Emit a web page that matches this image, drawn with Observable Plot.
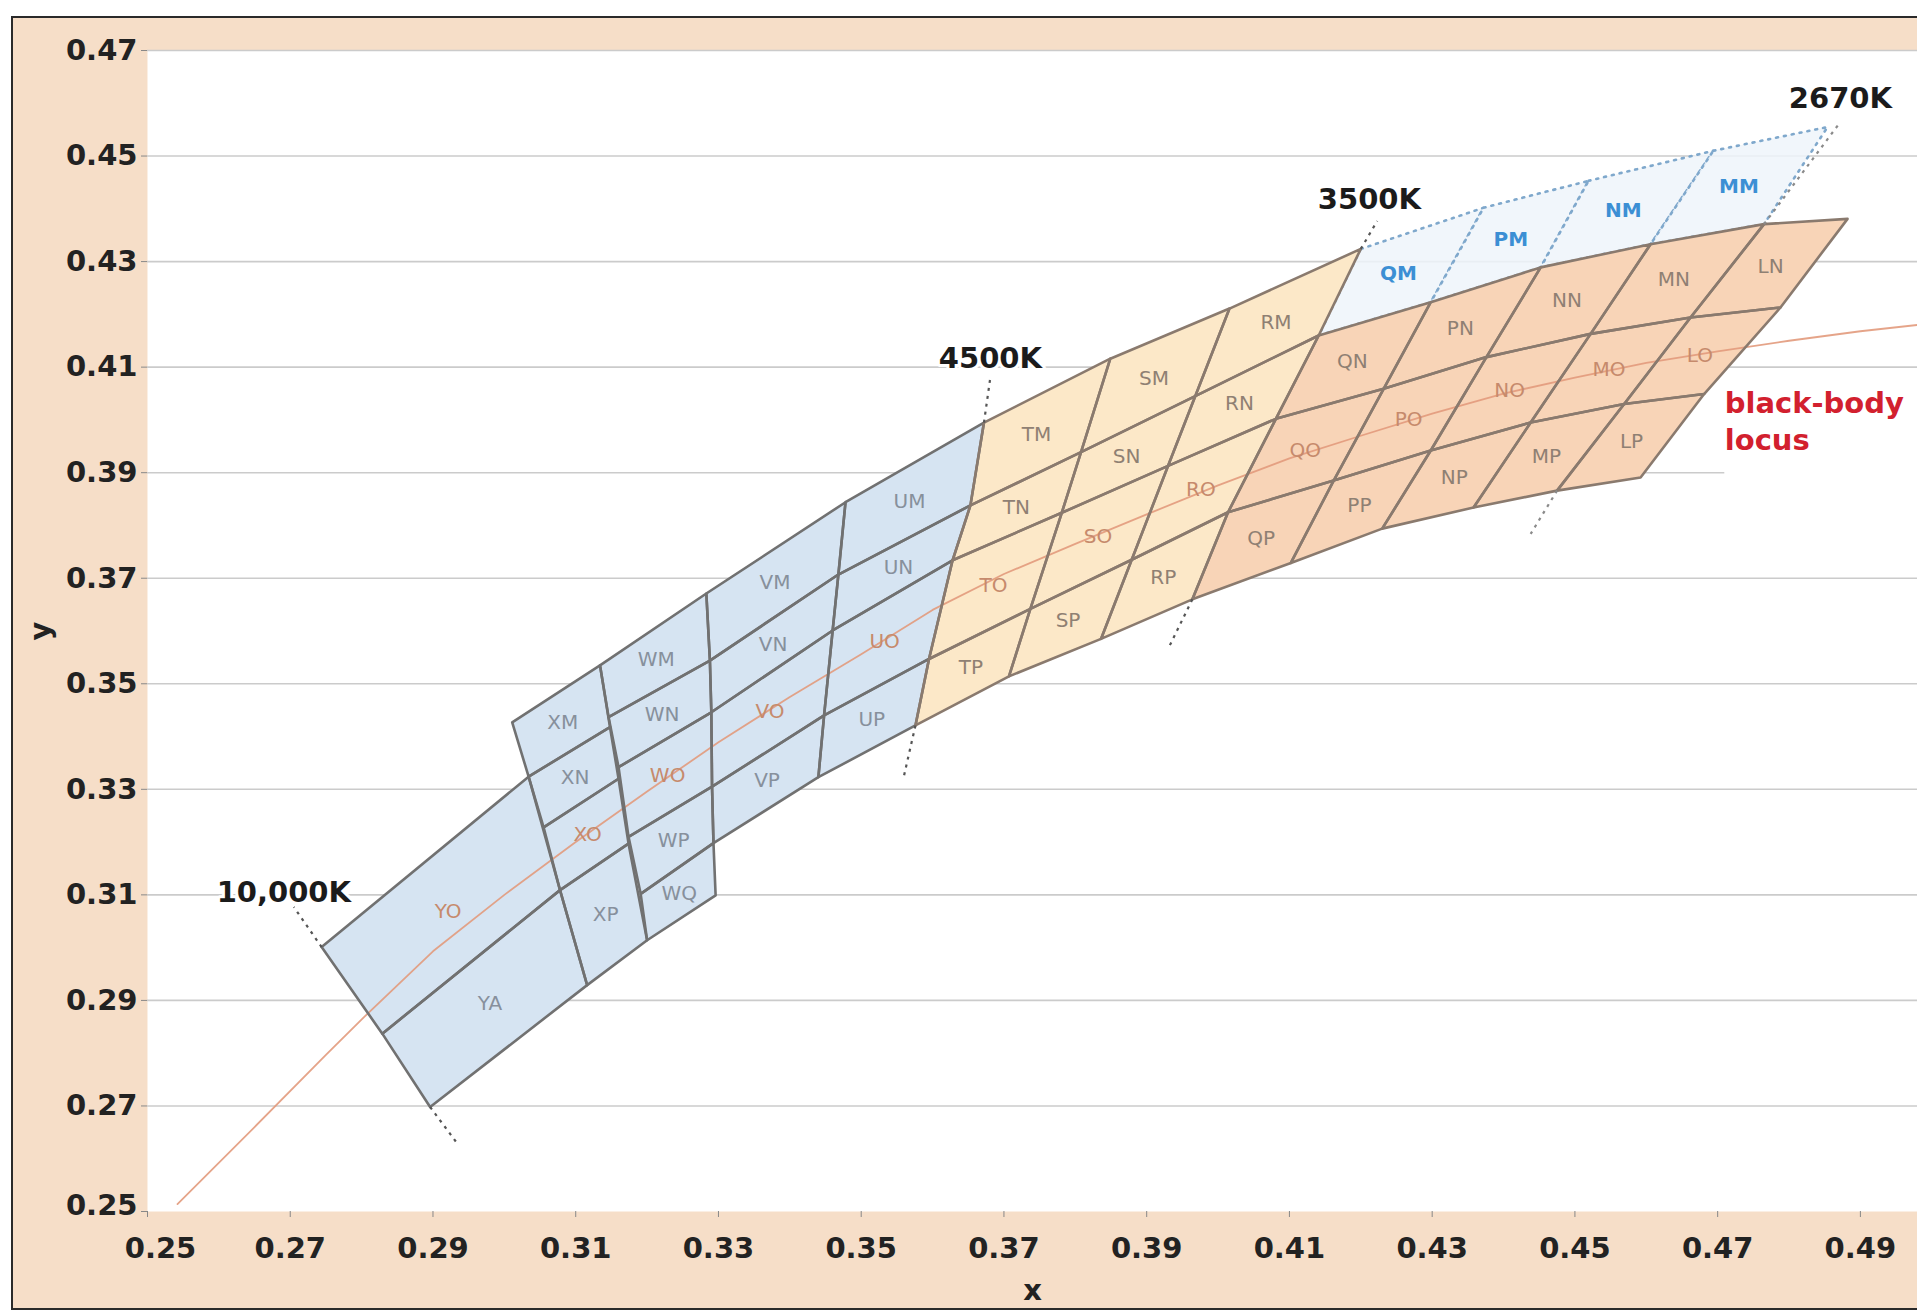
<!DOCTYPE html>
<html><head><meta charset="utf-8">
<script src="https://cdn.jsdelivr.net/npm/d3@7"></script>
<script src="https://cdn.jsdelivr.net/npm/@observablehq/plot@0.6"></script>
<style>
html,body{margin:0;padding:0;background:#fff;overflow:hidden;}
#wrap{position:relative;width:1917px;height:1313px;overflow:hidden;}
#panel{position:absolute;left:11px;top:16px;width:1930px;height:1294px;background:#F6DEC8;border:2px solid #2a2a2a;box-sizing:border-box;}
#chart{position:absolute;left:0;top:0;}
</style></head><body>
<div id="wrap"><div id="panel"></div><div id="chart"></div></div>
<script>
// ---- axis ticks ----
const xTicks = [0.25,0.27,0.29,0.31,0.33,0.35,0.37,0.39,0.41,0.43,0.45,0.47,0.49];
const yTicks = [0.25,0.27,0.29,0.31,0.33,0.35,0.37,0.39,0.41,0.43,0.45,0.47];

// ---- bin columns (CCT bins) and their rows (Duv bins) ----
const columns = ["Y","X","W","V","U","T","S","R","Q","P","N","M","L"];
const rowCodes = [
  ["O","A"],
  ["M","N","O","P"],
  ["M","N","O","P","Q"],
  ["M","N","O","P"],
  ["M","N","O","P"],
  ["M","N","O","P"],
  ["M","N","O","P"],
  ["M","N","O","P"],
  ["M","N","O","P"],
  ["M","N","O","P"],
  ["M","N","O","P"],
  ["M","N","O","P"],
  ["N","O","P"]
];
// left / right edge corner points of each column (CIE x, y), top to bottom
const leftX = [
  [0.2744,0.2829,0.2896],
  [0.3011,0.3034,0.3055,0.3078,0.3116],
  [0.3134,0.3146,0.3160,0.3174,0.3191,0.3200],
  [0.3283,0.3288,0.3290,0.3291,0.3293],
  [0.3478,0.3468,0.3460,0.3448,0.3440],
  [0.3672,0.3653,0.3628,0.3595,0.3576],
  [0.3849,0.3808,0.3781,0.3737,0.3707],
  [0.4016,0.3968,0.3930,0.3879,0.3836],
  [0.4200,0.4141,0.4081,0.4014,0.3964],
  [0.4372,0.4298,0.4232,0.4162,0.4102],
  [0.4519,0.4452,0.4376,0.4298,0.4230],
  [0.4694,0.4606,0.4522,0.4438,0.4358],
  [0.4765,0.4662,0.4569,0.4475]
];
const leftY = [
  [0.3001,0.2837,0.2698],
  [0.3427,0.3324,0.3228,0.3109,0.2929],
  [0.3535,0.3437,0.3342,0.3210,0.3102,0.3014],
  [0.3671,0.3544,0.3446,0.3305,0.3198],
  [0.3844,0.3707,0.3601,0.3440,0.3323],
  [0.3995,0.3838,0.3734,0.3547,0.3421],
  [0.4116,0.3939,0.3824,0.3642,0.3514],
  [0.4211,0.4045,0.3913,0.3735,0.3585],
  [0.4324,0.4160,0.4002,0.3825,0.3660],
  [0.4402,0.4223,0.4059,0.3885,0.3729],
  [0.4453,0.4289,0.4119,0.3942,0.3794],
  [0.4510,0.4333,0.4163,0.3995,0.3834],
  [0.4371,0.4194,0.4030,0.3866]
];
const rightX = [
  [0.3034,0.3078,0.3116],
  [0.3134,0.3148,0.3160,0.3174,0.3200],
  [0.3283,0.3288,0.3290,0.3291,0.3293,0.3296],
  [0.3478,0.3468,0.3460,0.3448,0.3440],
  [0.3672,0.3653,0.3628,0.3595,0.3576],
  [0.3849,0.3808,0.3781,0.3737,0.3707],
  [0.4016,0.3968,0.3930,0.3879,0.3836],
  [0.4200,0.4141,0.4081,0.4014,0.3964],
  [0.4372,0.4298,0.4232,0.4162,0.4102],
  [0.4519,0.4452,0.4376,0.4298,0.4230],
  [0.4694,0.4606,0.4522,0.4438,0.4358],
  [0.4854,0.4765,0.4662,0.4569,0.4475],
  [0.4882,0.4788,0.4681,0.4592]
];
const rightY = [
  [0.3324,0.3109,0.2929],
  [0.3535,0.3418,0.3320,0.3197,0.3014],
  [0.3671,0.3544,0.3446,0.3305,0.3198,0.3099],
  [0.3844,0.3707,0.3601,0.3440,0.3323],
  [0.3995,0.3838,0.3734,0.3547,0.3421],
  [0.4116,0.3939,0.3824,0.3642,0.3514],
  [0.4211,0.4045,0.3913,0.3735,0.3585],
  [0.4324,0.4160,0.4002,0.3825,0.3660],
  [0.4402,0.4223,0.4059,0.3885,0.3729],
  [0.4453,0.4289,0.4119,0.3942,0.3794],
  [0.4510,0.4333,0.4163,0.3995,0.3834],
  [0.4555,0.4371,0.4194,0.4030,0.3866],
  [0.4381,0.4213,0.4049,0.3891]
];
const dottedCells = ["QM","PM","NM","MM"];
const blueColumns = ["Y","X","W","V","U"];
const paleColumns = ["T","S","R"];

// ---- isotherm extensions (dashed) and their labels ----
const isoNames  = ["10,000K","10,000K","4500K","4500K","3500K","3500K","2670K","2670K"];
const isoX1 = [0.2744,0.2896,0.3672,0.3576,0.4200,0.3964,0.4765,0.4475];
const isoY1 = [0.3001,0.2698,0.3995,0.3421,0.4324,0.3660,0.4371,0.3866];
const isoX2 = [0.2705,0.2934,0.3681,0.3560,0.4223,0.3931,0.4870,0.4438];
const isoY2 = [0.3077,0.2629,0.4081,0.3326,0.4377,0.3569,0.4561,0.3784];
const isoLabels = ["10,000K","4500K","3500K","2670K"];
const isoLabelX = [0.2691,0.3681,0.4212,0.4872];
const isoLabelY = [0.3104,0.4116,0.4417,0.4609];

// ---- black-body (Planckian) locus ----
const locusX = [0.2542,0.2650,0.2750,0.2803,0.2900,0.3000,0.3100,0.3200,0.3300,0.3400,0.3500,0.3600,0.3700,0.3800,0.3900,0.4000,0.4100,0.4200,0.4300,0.4400,0.4500,0.4600,0.4700,0.4800,0.4900,0.4980];
const locusY = [0.2514,0.2660,0.2797,0.2868,0.2993,0.3100,0.3200,0.3296,0.3389,0.3475,0.3556,0.3640,0.3708,0.3765,0.3821,0.3876,0.3927,0.3970,0.4012,0.4050,0.4080,0.4108,0.4130,0.4150,0.4168,0.4180];
const locusLabel = ["black-body\nlocus"];
const locusLabelX = [0.4710];
const locusLabelY = [0.4000];

// ---- build polygon table ----
const cells = [];
const labels = [];
columns.forEach((c, i) => {
  rowCodes[i].forEach((r, j) => {
    const id = c + r;
    const pts = [
      [leftX[i][j], leftY[i][j]],
      [rightX[i][j], rightY[i][j]],
      [rightX[i][j+1], rightY[i][j+1]],
      [leftX[i][j+1], leftY[i][j+1]]
    ];
    const group = dottedCells.includes(id) ? "dotted"
      : blueColumns.includes(c) ? "blue"
      : paleColumns.includes(c) ? "pale" : "warm";
    pts.forEach((p, k) => cells.push({id, group, k, x: p[0], y: p[1]}));
    labels.push({id, group, row: r, x: d3.mean(pts, p => p[0]), y: d3.mean(pts, p => p[1])});
  });
});
const locus = locusX.map((x, i) => ({x, y: locusY[i]}));
const isoLines = isoX1.map((x, i) => ({name: isoNames[i], x1: x, y1: isoY1[i], x2: isoX2[i], y2: isoY2[i]}));
const isoText = isoLabels.map((t, i) => ({t, x: isoLabelX[i], y: isoLabelY[i]}));
const locusText = locusLabel.map((t, i) => ({t, x: locusLabelX[i], y: locusLabelY[i]}));

const byGroup = g => cells.filter(d => d.group === g);
const solid = cells.filter(d => d.group !== "dotted");
const labelColor = d => d.group === "dotted" ? "#3C8FD4" : d.row === "O" ? "#C68A6C" : d.group === "blue" ? "#87909C" : "#8F8073";
const FONT = "DejaVu Sans, Verdana, sans-serif";
const fmt = d3.format(".2f");
const xDomain = [0.25, 0.498];
const labelledLine = 0.39;   // grid line interrupted by the locus label

const chart = Plot.plot({
  width: 1917, height: 1313,
  marginLeft: 147, marginRight: 0, marginTop: 50, marginBottom: 102,
  x: {domain: xDomain},
  y: {domain: [0.25, 0.47]},
  style: {background: "transparent", fontFamily: FONT, color: "#222", overflow: "visible"},
  marks: [
    Plot.frame({fill: "white", stroke: null}),
    Plot.ruleY(yTicks.slice(1).filter(v => v !== labelledLine), {stroke: "#cbcbcb", strokeWidth: 1.6}),
    Plot.ruleY([labelledLine], {x1: xDomain[0], x2: locusLabelX[0], stroke: "#cbcbcb", strokeWidth: 1.6}),
    // dotted (extension) cells
    Plot.line(byGroup("dotted"), {x: "x", y: "y", z: "id", curve: "linear-closed", fill: "#EEF4FA", fillOpacity: 0.85, stroke: "#7FA8CC", strokeWidth: 2.6, strokeDasharray: "2,6", strokeLinecap: "round"}),
    // filled cells
    Plot.line(byGroup("blue"), {x: "x", y: "y", z: "id", curve: "linear-closed", fill: "#D6E4F2", stroke: "none"}),
    Plot.line(byGroup("pale"), {x: "x", y: "y", z: "id", curve: "linear-closed", fill: "#FCE8C8", stroke: "none"}),
    Plot.line(byGroup("warm"), {x: "x", y: "y", z: "id", curve: "linear-closed", fill: "#F8D4B7", stroke: "none"}),
    // black-body locus
    Plot.line(locus, {x: "x", y: "y", stroke: "#E29A7C", strokeWidth: 1.8, strokeOpacity: 0.9}),
    // cell outlines
    Plot.line(byGroup("blue"), {x: "x", y: "y", z: "id", curve: "linear-closed", fill: "none", stroke: "#717171", strokeWidth: 2.6, strokeLinejoin: "round"}),
    Plot.line(solid.filter(d => d.group !== "blue"), {x: "x", y: "y", z: "id", curve: "linear-closed", fill: "none", stroke: "#8A7A6E", strokeWidth: 2.6, strokeLinejoin: "round"}),
    // dashed isotherm extensions
    Plot.link(isoLines, {x1: "x1", y1: "y1", x2: "x2", y2: "y2", stroke: d => d.name === "2670K" ? "#8a8a8a" : "#555", strokeWidth: 2.2, strokeDasharray: "3,5"}),
    // cell labels
    Plot.text(labels.filter(d => d.group !== "dotted"), {x: "x", y: "y", text: "id", fill: labelColor, fontSize: 20, fontFamily: FONT}),
    Plot.text(labels.filter(d => d.group === "dotted"), {x: "x", y: "y", text: "id", fill: labelColor, fontSize: 20, fontWeight: "bold", fontFamily: FONT}),
    // isotherm labels
    Plot.text(isoText, {x: "x", y: "y", text: "t", fill: "#1b1b1b", fontSize: 29, fontWeight: "bold", stroke: "white", strokeWidth: 6, fontFamily: FONT}),
    // locus label
    Plot.text(locusText, {x: "x", y: "y", text: "t", fill: "#D2202E", fontSize: 29, fontWeight: "bold", textAnchor: "start", lineHeight: 1.28, stroke: "white", strokeWidth: 8, fontFamily: FONT}),
    // axes
    Plot.axisY({ticks: yTicks, tickFormat: d => d === 0.25 ? "" : fmt(d), tickSize: 6, tickPadding: 4, fontSize: 29, fontWeight: "bold", stroke: "#888", fill: "#222", label: "y", labelAnchor: "center", labelArrow: "none", labelOffset: 118}),
    Plot.axisY({ticks: [0.25], tickFormat: fmt, tickSize: 0, tickPadding: 10, dy: -6, fontSize: 29, fontWeight: "bold", fill: "#222", label: null}),
    Plot.axisX({ticks: xTicks, tickFormat: d => d === 0.25 ? "" : fmt(d), tickSize: 6, tickPadding: 20, fontSize: 29, fontWeight: "bold", stroke: "#888", fill: "#222", label: "x", labelAnchor: "center", labelArrow: "none", labelOffset: 88}),
    Plot.axisX({ticks: [0.25], tickFormat: fmt, tickSize: 0, tickPadding: 26, dx: 13, fontSize: 29, fontWeight: "bold", fill: "#222", label: null})
  ]
});
document.getElementById("chart").appendChild(chart);
</script>
</body></html>
